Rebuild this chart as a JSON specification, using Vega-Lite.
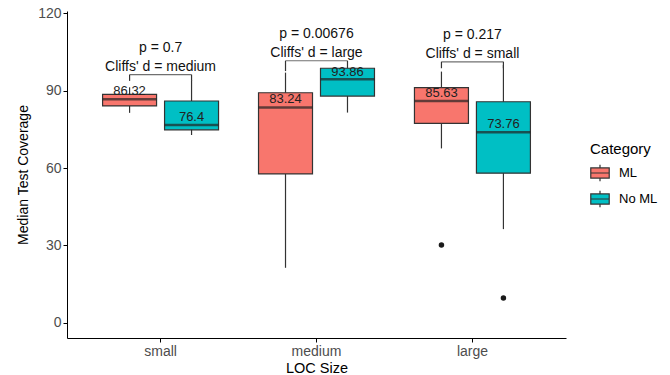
{
  "$schema": "https://vega.github.io/schema/vega-lite/v6.json",
  "width": 499,
  "height": 327,
  "autosize": {"type": "none"},
  "padding": {"left": 67, "top": 11, "right": 104, "bottom": 37},
  "background": "white",
  "config": {
    "view": {"stroke": null},
    "font": "Liberation Sans",
    "axis": {
      "grid": false,
      "domainColor": "#000000",
      "domainWidth": 1,
      "tickColor": "#000000",
      "tickWidth": 1,
      "tickSize": 4,
      "labelColor": "#4D4D4D",
      "labelFontSize": 14,
      "labelFont": "Liberation Sans",
      "titleFont": "Liberation Sans",
      "titleFontSize": 14.5,
      "titleFontWeight": "normal",
      "titleColor": "#000000",
      "labelPadding": 2
    },
    "legend": {
      "titleFont": "Liberation Sans",
      "labelFont": "Liberation Sans"
    }
  },
  "datasets": {
    "boxes": [
      {"size": "small", "cat": "ML", "lower": 81.4, "q1": 84.1, "median": 86.7, "q3": 88.6, "upper": 91.3, "mean": 86.32},
      {"size": "small", "cat": "No ML", "lower": 72.8, "q1": 74.8, "median": 76.7, "q3": 86.0, "upper": 94.0, "mean": 76.4},
      {"size": "medium", "cat": "ML", "lower": 21.3, "q1": 57.7, "median": 83.5, "q3": 89.2, "upper": 97.0, "mean": 83.24},
      {"size": "medium", "cat": "No ML", "lower": 81.5, "q1": 87.9, "median": 94.4, "q3": 98.7, "upper": 98.7, "mean": 93.86},
      {"size": "large", "cat": "ML", "lower": 67.6, "q1": 77.3, "median": 86.0, "q3": 91.2, "upper": 97.4, "mean": 85.63},
      {"size": "large", "cat": "No ML", "lower": 36.3, "q1": 58.0, "median": 73.9, "q3": 85.7, "upper": 100.0, "mean": 73.76}
    ],
    "outliers": [
      {"size": "large", "cat": "ML", "value": 30.1},
      {"size": "large", "cat": "No ML", "value": 9.6}
    ],
    "brackets": [
      {"size": "small", "level": 96.2, "p": "p = 0.7", "cliffs": "Cliffs' d = medium"},
      {"size": "medium", "level": 101.6, "p": "p = 0.00676", "cliffs": "Cliffs' d = large"},
      {"size": "large", "level": 101.2, "p": "p = 0.217", "cliffs": "Cliffs' d = small"}
    ],
    "tips": [
      {"size": "small", "cat": "ML", "top": 96.2, "bottom": 93.8},
      {"size": "small", "cat": "No ML", "top": 96.2, "bottom": 93.8},
      {"size": "medium", "cat": "ML", "top": 101.6, "bottom": 97.6},
      {"size": "medium", "cat": "No ML", "top": 101.6, "bottom": 98.6},
      {"size": "large", "cat": "ML", "top": 101.2, "bottom": 98.7},
      {"size": "large", "cat": "No ML", "top": 101.2, "bottom": 98.7}
    ]
  },
  "encoding": {
    "x": {
      "field": "size",
      "type": "nominal",
      "sort": ["small", "medium", "large"],
      "scale": {"domain": ["small", "medium", "large"], "paddingInner": 0, "paddingOuter": 0.1},
      "axis": {"labelAngle": 0, "titlePadding": 3},
      "title": "LOC Size"
    }
  },
  "layer": [
    {
      "data": {"name": "boxes"},
      "mark": {"type": "rule", "color": "#333333", "strokeWidth": 1.2},
      "encoding": {
        "xOffset": {"field": "cat", "type": "nominal", "scale": {"domain": ["ML", "No ML"], "paddingInner": 0.129, "paddingOuter": 0.3225}},
        "y": {
          "field": "lower",
          "type": "quantitative",
          "scale": {"domain": [-5.93, 120.9], "nice": false, "zero": false},
          "axis": {"values": [0, 30, 60, 90, 120], "titlePadding": 7, "titleFontSize": 14},
          "title": "Median Test Coverage"
        },
        "y2": {"field": "upper"}
      }
    },
    {
      "data": {"name": "tips"},
      "mark": {"type": "rule", "color": "#333333", "strokeWidth": 1.2},
      "encoding": {
        "xOffset": {"field": "cat", "type": "nominal"},
        "y": {"field": "top", "type": "quantitative"},
        "y2": {"field": "bottom"}
      }
    },
    {
      "data": {"name": "brackets"},
      "mark": {"type": "tick", "color": "#333333", "size": 62, "thickness": 1.2, "orient": "horizontal"},
      "encoding": {
        "y": {"field": "level", "type": "quantitative"}
      }
    },
    {
      "data": {"name": "boxes"},
      "mark": {"type": "bar", "stroke": "#333333", "strokeWidth": 1.2},
      "encoding": {
        "xOffset": {"field": "cat", "type": "nominal"},
        "y": {"field": "q1", "type": "quantitative"},
        "y2": {"field": "q3"},
        "fill": {
          "field": "cat",
          "type": "nominal",
          "scale": {"domain": ["ML", "No ML"], "range": ["#F8766D", "#00BFC4"]},
          "legend": {
            "title": "Category",
            "orient": "none",
            "legendX": 523,
            "legendY": 131,
            "titleFontSize": 15,
            "titleFontWeight": "normal",
            "titleColor": "#000000",
            "titlePadding": 6,
            "labelFontSize": 13,
            "labelColor": "#000000",
            "symbolType": "M-1,-0.55H1V0.55H-1Z M-1,0H1 M0,-0.55V-0.9 M0,0.55V0.9",
            "symbolSize": 340,
            "symbolStrokeColor": "#333333",
            "symbolStrokeWidth": 1.2,
            "symbolOpacity": 1,
            "rowPadding": 4,
            "labelOffset": 9
          }
        }
      }
    },
    {
      "data": {"name": "boxes"},
      "mark": {"type": "tick", "color": "#222222", "size": 54, "thickness": 2.6, "orient": "horizontal"},
      "encoding": {
        "xOffset": {"field": "cat", "type": "nominal"},
        "y": {"field": "median", "type": "quantitative"}
      }
    },
    {
      "data": {"name": "outliers"},
      "mark": {"type": "point", "filled": true, "color": "#1a1a1a", "size": 30, "opacity": 1},
      "encoding": {
        "xOffset": {"field": "cat", "type": "nominal"},
        "y": {"field": "value", "type": "quantitative"}
      }
    },
    {
      "data": {"name": "boxes"},
      "mark": {"type": "text", "fontSize": 13, "color": "#222222", "baseline": "alphabetic", "dy": -5},
      "encoding": {
        "xOffset": {"field": "cat", "type": "nominal"},
        "y": {"field": "mean", "type": "quantitative"},
        "text": {"field": "mean", "type": "nominal"}
      }
    },
    {
      "data": {"name": "brackets"},
      "mark": {"type": "text", "fontSize": 14, "color": "#111111", "baseline": "middle", "dy": -8},
      "encoding": {
        "y": {"field": "level", "type": "quantitative"},
        "text": {"field": "cliffs", "type": "nominal"}
      }
    },
    {
      "data": {"name": "brackets"},
      "mark": {"type": "text", "fontSize": 14, "color": "#111111", "baseline": "middle", "dy": -27},
      "encoding": {
        "y": {"field": "level", "type": "quantitative"},
        "text": {"field": "p", "type": "nominal"}
      }
    }
  ]
}
